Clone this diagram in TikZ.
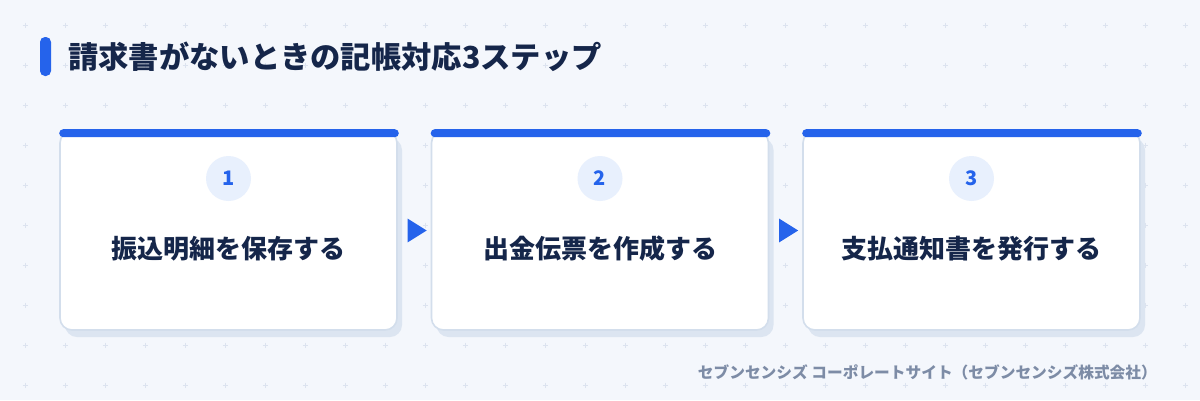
\documentclass[tikz,border=0pt]{standalone}
\usepackage{fontspec}
\setmainfont{Noto Sans CJK JP}
\usetikzlibrary{shadows,shapes.geometric,calc}
\definecolor{bgc}{HTML}{F4F7FC}
\definecolor{dotc}{HTML}{DCE3EF}
\definecolor{cardline}{HTML}{D3DEEC}
\definecolor{shadowc}{HTML}{DCE5F1}
\definecolor{accent}{HTML}{2563EB}
\definecolor{circc}{HTML}{E8F0FD}
\definecolor{textc}{HTML}{15264A}
\definecolor{footc}{HTML}{7D8CA6}
\tikzset{
  card/.style={draw=cardline, line width=1.6pt, fill=white, rounded corners=12pt,
    minimum width=337pt, minimum height=199pt, inner sep=0pt,
    copy shadow={shadow xshift=5pt, shadow yshift=-7pt, fill=shadowc, draw=none}},
  numcirc/.style={circle, fill=circc, minimum size=45pt, inner sep=0pt,
    font=\fontsize{20}{20}\selectfont\bfseries, text=accent},
  steptext/.style={font=\fontsize{26}{26}\selectfont\bfseries, text=textc, inner sep=0pt},
  arrowtri/.style={isosceles triangle, isosceles triangle apex angle=64, fill=accent,
    minimum height=19pt, inner sep=0pt, shape border rotate=0},
  plusmark/.style={dotc, line width=0.7pt}
}
\begin{document}
\begin{tikzpicture}[x=1pt,y=-1pt]
\useasboundingbox (0,0) rectangle (1200,400);
\fill[bgc] (0,0) rectangle (1200,400);
% grid of plus marks
\foreach \i in {0,...,29}{
  \foreach \j in {0,...,9}{
    \draw[plusmark] ({25+40*\i-2.5},{25+40*\j}) -- ++(5,0);
    \draw[plusmark] ({25+40*\i},{25+40*\j-2.5}) -- ++(0,5);
  }
}
% title
\node[fill=accent, rounded corners=5pt, minimum width=11pt, minimum height=39pt, inner sep=0pt] (tbar) at (45.5,56.5) {};
\node[anchor=west, inner sep=0pt, font=\fontsize{30.3}{30.3}\selectfont\bfseries, text=textc] (title) at (68,57) {請求書がないときの記帳対応3ステップ};
% cards
\foreach \n/\cx/\num/\txt in {c1/228.5/1/振込明細を保存する, c2/600/2/出金伝票を作成する, c3/971.5/3/支払通知書を発行する}{
  \node[card] (\n) at (\cx,230.5) {};
  \fill[accent, rounded corners=4pt] ($(\n.north west)+(0,-1)$) rectangle ($(\n.north east)+(1,7)$);
  \node[numcirc] (\n num) at (\cx,178.5) {\num};
  \node[steptext] (\n txt) at (\cx,249) {\txt};
}
% arrows
\node[arrowtri] (a1) at ($(c1.east)!0.5!(c2.west)$) {};
\node[arrowtri] (a2) at ($(c2.east)!0.5!(c3.west)$) {};
% footer
\node[anchor=east, inner sep=0pt, font=\fontsize{15.7}{15.7}\selectfont\bfseries, text=footc] (foot) at (1157,372) {セブンセンシズ コーポレートサイト（セブンセンシズ株式会社）};
\end{tikzpicture}
\end{document}
